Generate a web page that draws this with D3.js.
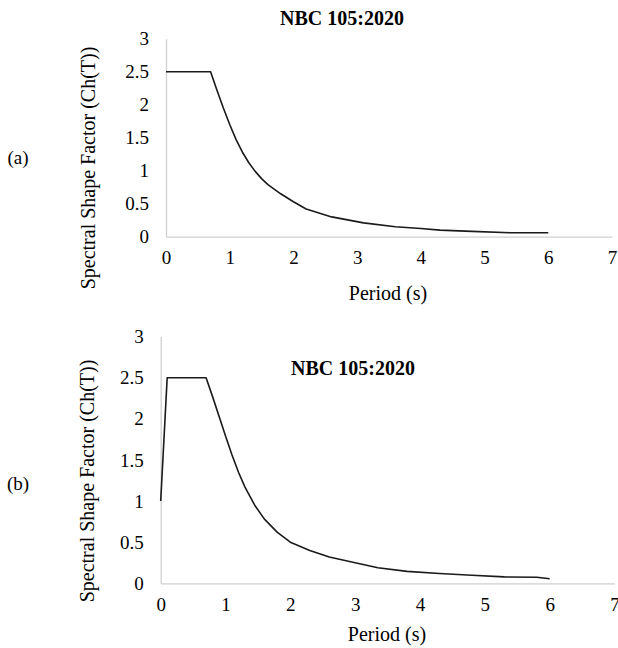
<!DOCTYPE html>
<html>
<head>
<meta charset="utf-8">
<script src="https://cdn.jsdelivr.net/npm/d3@7"></script>
<style>
  body { margin: 0; background: #fff; }
  svg text { font-family: "Liberation Serif", "Times New Roman", Times, "DejaVu Serif", serif; fill: #000; }
</style>
</head>
<body>
<script>
var width = 618;
var height = 648;
var serif = "'Liberation Serif', 'Times New Roman', Times, 'DejaVu Serif', serif";

// Panel (a): Ch(T) without the initial ramp
var periodA = [0, 0.7, 0.8, 0.9, 1.0, 1.1, 1.2, 1.3, 1.4, 1.5, 1.6, 1.8, 2.0, 2.2, 2.6, 3.1, 3.6, 4.0, 4.3, 4.8, 5.4, 6.0];
var shapeA = [2.5, 2.5, 2.22, 1.95, 1.70, 1.47, 1.28, 1.12, 0.99, 0.88, 0.79, 0.65, 0.53, 0.42, 0.30, 0.21, 0.15, 0.125, 0.10, 0.08, 0.06, 0.06];

// Panel (b): Ch(T) with the ramp from 1 to 2.5
var periodB = [0, 0.1, 0.7, 0.8, 0.9, 1.0, 1.1, 1.2, 1.3, 1.45, 1.6, 1.8, 2.0, 2.3, 2.6, 3.0, 3.35, 3.8, 4.3, 4.8, 5.3, 5.8, 6.0];
var shapeB = [1.0, 2.5, 2.5, 2.27, 2.03, 1.79, 1.56, 1.35, 1.17, 0.95, 0.78, 0.62, 0.50, 0.40, 0.32, 0.25, 0.19, 0.145, 0.12, 0.097, 0.078, 0.073, 0.056];

var xTicks = [0, 1, 2, 3, 4, 5, 6, 7];
var yTicks = [0, 0.5, 1, 1.5, 2, 2.5, 3];
var yTickLabels = ["0", "0.5", "1", "1.5", "2", "2.5", "3"];

var chartTitle = "NBC 105:2020";
var xTitle = "Period (s)";
var yTitle = "Spectral Shape Factor (Ch(T))";

var panels = [
  { tag: "(a)", period: periodA, shape: shapeA,
    left: 166, right: 612, top: 38.7, bottom: 236.7,
    titleX: 342, titleY: 18, tagY: 157,
    xTitleX: 388, xTitleY: 293, yTitleX: 88, yTitleY: 168 },
  { tag: "(b)", period: periodB, shape: shapeB,
    left: 160.7, right: 614.5, top: 336.6, bottom: 583.3,
    titleX: 353, titleY: 368, tagY: 483,
    xTitleX: 387, xTitleY: 634, yTitleX: 87, yTitleY: 481 }
];

var svg = d3.select("body")
  .append("svg")
  .attr("width", width)
  .attr("height", height);

panels.forEach(function(p) {
  var xScale = d3.scaleLinear().domain([0, 7]).range([p.left, p.right]);
  var yScale = d3.scaleLinear().domain([0, 3]).range([p.bottom, p.top]);

  var g = svg.append("g");

  // axes: plain grey lines, no tick marks
  var xAxis = d3.axisBottom(xScale).tickValues(xTicks).tickSize(0).tickPadding(14)
    .tickFormat(d3.format("d"));
  var yAxis = d3.axisLeft(yScale).tickValues(yTicks).tickSize(0).tickPadding(17)
    .tickFormat(function(d, i) { return yTickLabels[i]; });

  g.append("g")
    .attr("transform", "translate(0," + p.bottom + ")")
    .call(xAxis)
    .call(function(s) {
      s.attr("font-family", serif);
      s.select(".domain").attr("stroke", "#d0d0d0").attr("stroke-width", 1.3);
      s.selectAll("text").attr("font-size", 19).attr("dy", "0.71em")
        .style("font-family", serif).attr("fill", "#000");
    });

  g.append("g")
    .attr("transform", "translate(" + p.left + ",0)")
    .call(yAxis)
    .call(function(s) {
      s.attr("font-family", serif);
      s.select(".domain").attr("stroke", "#d0d0d0").attr("stroke-width", 1.3);
      s.selectAll("text").attr("font-size", 19)
        .style("font-family", serif).attr("fill", "#000");
    });

  // the spectrum line
  var pts = p.period.map(function(t, i) { return [t, p.shape[i]]; });
  var line = d3.line()
    .x(function(d) { return xScale(d[0]); })
    .y(function(d) { return yScale(d[1]); });

  g.append("path")
    .datum(pts)
    .attr("d", line)
    .attr("fill", "none")
    .attr("stroke", "#1a1a1a")
    .attr("stroke-width", 1.6)
    .attr("stroke-linejoin", "round");

  // titles
  g.append("text")
    .attr("x", p.titleX)
    .attr("y", p.titleY)
    .attr("text-anchor", "middle")
    .attr("dominant-baseline", "central")
    .attr("font-size", 20)
    .attr("font-weight", "bold")
    .style("font-family", serif)
    .text(chartTitle);

  g.append("text")
    .attr("x", p.xTitleX)
    .attr("y", p.xTitleY)
    .attr("text-anchor", "middle")
    .attr("dominant-baseline", "central")
    .attr("font-size", 20)
    .style("font-family", serif)
    .text(xTitle);

  g.append("text")
    .attr("transform", "translate(" + p.yTitleX + "," + p.yTitleY + ") rotate(-90)")
    .attr("text-anchor", "middle")
    .attr("dominant-baseline", "central")
    .attr("font-size", 20)
    .style("font-family", serif)
    .text(yTitle);

  g.append("text")
    .attr("x", 18)
    .attr("y", p.tagY)
    .attr("text-anchor", "middle")
    .attr("dominant-baseline", "central")
    .attr("font-size", 19)
    .style("font-family", serif)
    .text(p.tag);
});
</script>
</body>
</html>
